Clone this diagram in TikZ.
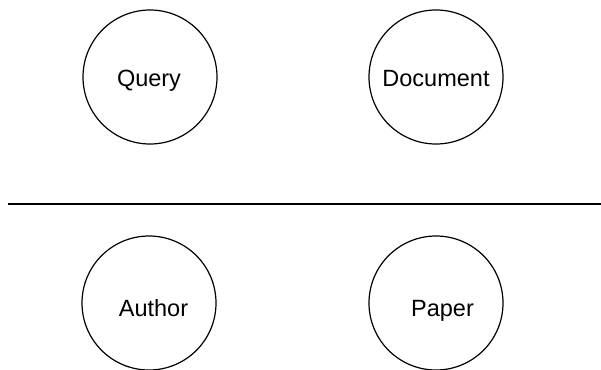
\documentclass[tikz,border=0pt]{standalone}
\usepackage{fontspec}
\setmainfont{Liberation Sans}
\usetikzlibrary{shapes.geometric,positioning}

\begin{document}
\begin{tikzpicture}
   		[x=1pt,y=-1pt,
   		every node/.style={shape=circle,inner sep=0pt,draw,
   			line width=1.2pt,minimum size=134pt},
   		txt/.style={draw=none,shape=rectangle,minimum size=0pt,
   			anchor=base,font=\fontsize{23.5}{28}\selectfont}]
   		\useasboundingbox (0,0) rectangle (601,369);
   		\clip (0,0) rectangle (601,369);
   		\node (q) at (150,77) {};
   		\node (d) at (436,77) {};
   		\node (a) at (149,303) {};
   		\node (p) at (436,303) {};
   		\node[txt] (qt) at (149,86.5) {Query};
   		\node[txt] (dt) at (436,86.5) {Document};
   		\node[txt] (at) at (153.5,316.5) {Author};
   		\node[txt] (pt) at (442.5,316.5) {Paper};
   		% separator between the two rows
   		\coordinate (sepL) at (8,204);
   		\coordinate (sepR) at (601,204);
   		\draw [-,line width=2.4pt] (sepL) -- (sepR);
   		\end{tikzpicture}
\end{document}
